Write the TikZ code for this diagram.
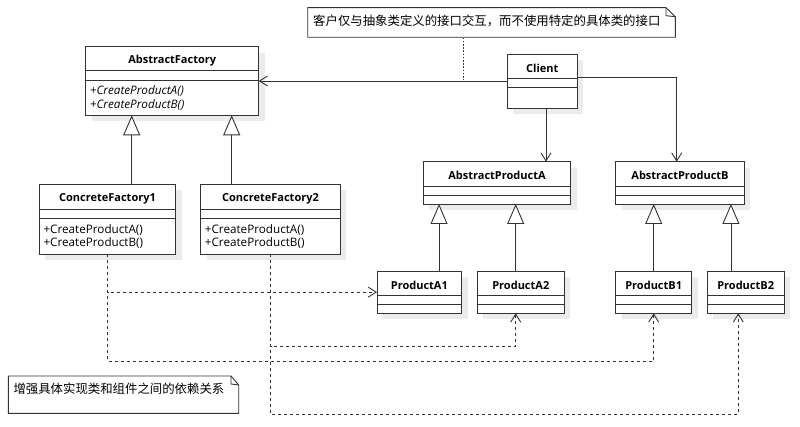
\documentclass[tikz,border=0pt]{standalone}
\usepackage{fontspec}
\setmainfont{Open Sans}
\newfontfamily\cjk{Noto Sans CJK SC}
\usetikzlibrary{arrows.meta}
\definecolor{linec}{HTML}{333333}
\definecolor{shadowc}{HTML}{EBEBEB}
\tikzset{
  classbox/.style={draw=linec, line width=0.9pt, fill=white, inner sep=0pt, outer sep=0pt},
  cline/.style={draw=linec, line width=0.9pt},
  titletext/.style={font=\fontsize{11}{13}\selectfont\bfseries, inner sep=0pt, yshift=-2pt},
  opstext/.style={font=\fontsize{11.7}{13.6}\selectfont, inner sep=0pt, align=left, anchor=north west},
  assoc/.style={draw=linec, line width=0.9pt, -{Straight Barb[length=8pt,width=10pt]}},
  inherit/.style={draw=linec, line width=0.9pt, -{Triangle[open,length=20pt,width=17pt,fill=white]}},
  depend/.style={draw=linec, line width=0.9pt, dash pattern=on 3pt off 3pt, -{Straight Barb[length=8pt,width=10pt]}},
  notelink/.style={draw=linec, line width=0.9pt, dash pattern=on 1.6pt off 1.6pt},
  notetext/.style={font=\cjk\fontsize{12.4}{14}\selectfont, inner sep=0pt, anchor=north west},
}
% #1 name, #2 x1, #3 y1, #4 x2, #5 y2, #6 name-compartment bottom, #7 separator
\newcommand\umlbox[7]{%
  \fill[shadowc] ({#2+6},{#3+6}) rectangle ({#4+6},{#5+6});
  \node[classbox, anchor=north west, minimum width={(#4-#2)*1pt}, minimum height={(#5-#3)*1pt}] (#1) at (#2,#3) {};
  \draw[cline] (#2,#6) -- (#4,#6) (#2,#7) -- (#4,#7);
  \coordinate (#1-tc) at ({(#2+#4)/2},{(#3+#6)/2});
  \coordinate (#1-ops) at ({#2+4},{#7+5.5});
}
% note: #1 name, #2 x1, #3 y1, #4 x2, #5 y2, #6 fold x
\newcommand\umlnote[6]{%
  \draw[cline, fill=white] (#2,#3) -- (#6,#3) -- (#4,{#3+9}) -- (#4,#5) -- (#2,#5) -- cycle;
  \draw[cline] (#6,#3) -- (#6,{#3+8}) -- (#4,{#3+9});
  \node[inner sep=0pt, anchor=north west, minimum width={(#4-#2)*1pt}, minimum height={(#5-#3)*1pt}] (#1) at (#2,#3) {};
}
\begin{document}
\begin{tikzpicture}[x=1pt,y=-1pt]
\useasboundingbox[fill=white] (0,0) rectangle (800,427);

% classes
\umlbox{af}{85.7}{46.7}{258.7}{115.3}{70.3}{80}
\node[titletext] (af-t) at (af-tc) {AbstractFactory};
\node[opstext, font=\fontsize{11.7}{13.6}\selectfont\itshape] (af-o) at (af-ops) {+CreateProductA()\\+CreateProductB()};

\umlbox{cf1}{39.3}{184.3}{175.7}{254}{209.3}{218.7}
\node[titletext] (cf1-t) at (cf1-tc) {ConcreteFactory1};
\node[opstext] (cf1-o) at (cf1-ops) {+CreateProductA()\\+CreateProductB()};

\umlbox{cf2}{200.7}{184.3}{340.3}{254}{209.3}{218.7}
\node[titletext] (cf2-t) at (cf2-tc) {ConcreteFactory2};
\node[opstext] (cf2-o) at (cf2-ops) {+CreateProductA()\\+CreateProductB()};

\umlbox{client}{507.3}{54}{577.3}{108}{78.3}{87.7}
\node[titletext] (client-t) at (client-tc) {Client};

\umlbox{apa}{423.3}{161.7}{570.7}{204}{186}{195}
\node[titletext] (apa-t) at (apa-tc) {AbstractProductA};

\umlbox{apb}{615.7}{161.7}{744.3}{204}{186}{195}
\node[titletext] (apb-t) at (apb-tc) {AbstractProductB};

\umlbox{pa1}{377}{271}{461.7}{313.3}{295.3}{304.3}
\node[titletext] (pa1-t) at (pa1-tc) {ProductA1};

\umlbox{pa2}{477.3}{271}{564.3}{313.3}{295.3}{304.3}
\node[titletext] (pa2-t) at (pa2-tc) {ProductA2};

\umlbox{pb1}{615.7}{271}{691.7}{313.3}{295.3}{304.3}
\node[titletext] (pb1-t) at (pb1-tc) {ProductB1};

\umlbox{pb2}{707.3}{271}{784}{313.3}{295.3}{304.3}
\node[titletext] (pb2-t) at (pb2-tc) {ProductB2};

% notes
\umlnote{n1}{307.7}{7.7}{675.3}{37.3}{666}
\node[notetext] (n1-t) at (313,14.5) {客户仅与抽象类定义的接口交互，而不使用特定的具体类的接口};
\umlnote{n2}{8.3}{376}{238.7}{413.3}{231}
\node[notetext] (n2-t) at (13.3,382.5) {增强具体实现类和组件之间的依赖关系};

% associations
\draw[assoc] (client.west) -- (af.east);
\draw[assoc] ([xshift=3.7pt]client.south) -- ([xshift=3.7pt]client.south |- apa.north);
\draw[assoc] ([yshift=3.7pt]client.east) -| ([xshift=-3.3pt]apb.north);
\draw[notelink] (n1.south -| 463,0) -- (463,80);

% generalizations
\draw[inherit] ([xshift=24.2pt]cf1.north) -- ([xshift=24.2pt]cf1.north |- af.south);
\draw[inherit] ([xshift=-38.8pt]cf2.north) -- ([xshift=-38.8pt]cf2.north |- af.south);
\draw[inherit] ([xshift=19.7pt]pa1.north) -- ([xshift=19.7pt]pa1.north |- apa.south);
\draw[inherit] ([xshift=-5.1pt]pa2.north) -- ([xshift=-5.1pt]pa2.north |- apa.south);
\draw[inherit] (pb1.north) -- (pb1.north |- apb.south);
\draw[inherit] ([xshift=-14.7pt]pb2.north) -- ([xshift=-14.7pt]pb2.north |- apb.south);

% dependencies
\draw[depend] (cf1.south) -- (cf1.south |- pa1.west) -- (pa1.west);
\draw[depend] (cf1.south) -- ++(0,107) -| (pb1.south);
\draw[depend] (cf2.south) -- ++(0,92.3) -| ([xshift=-5.1pt]pa2.south);
\draw[depend] (cf2.south) -- ++(0,160.3) -| ([xshift=-7.4pt]pb2.south);
\end{tikzpicture}
\end{document}
